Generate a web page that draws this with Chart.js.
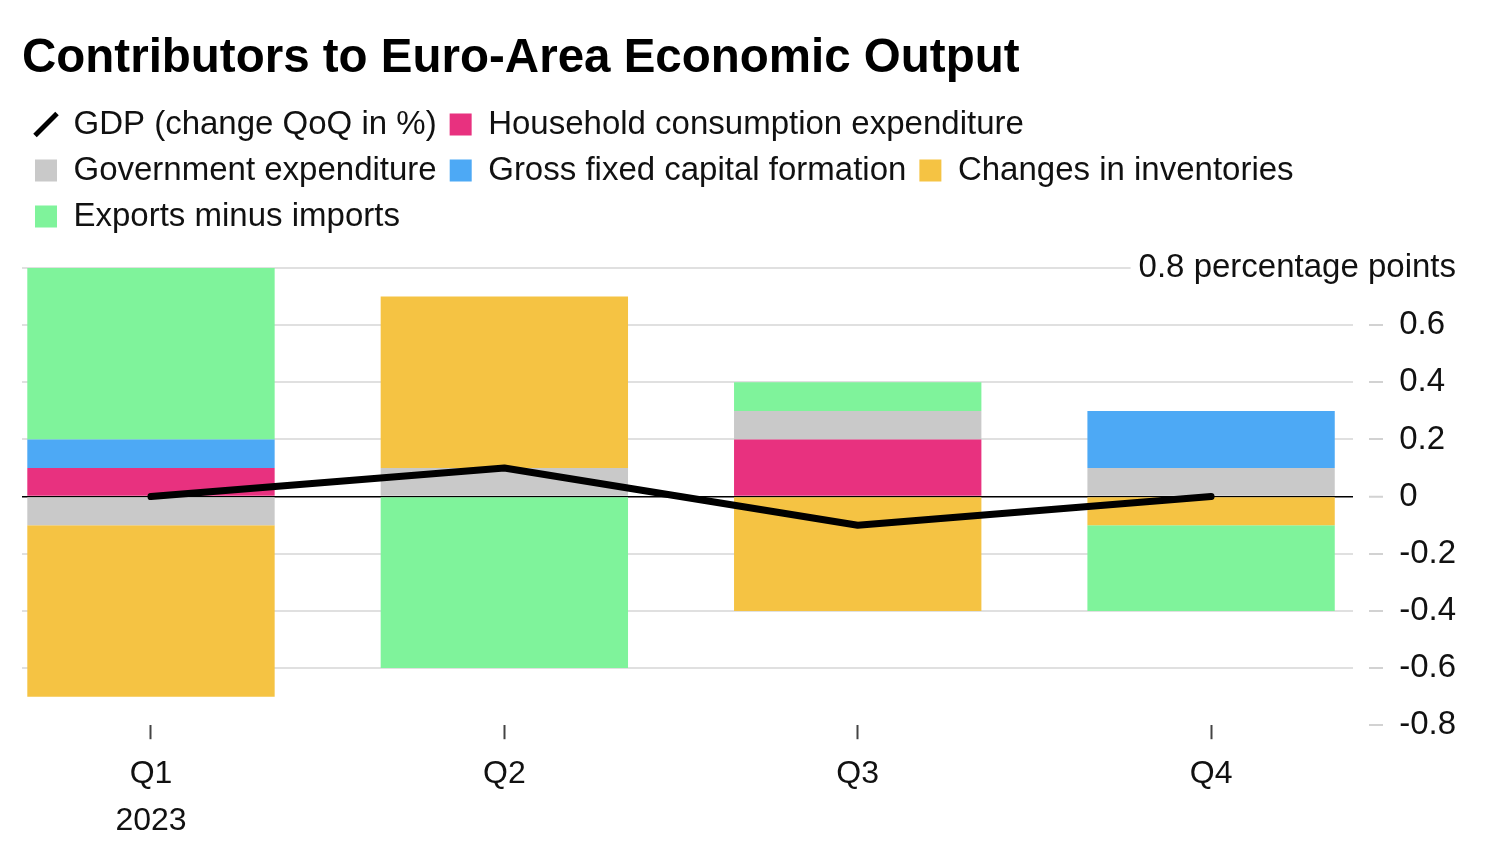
<!DOCTYPE html>
<html>
<head>
<meta charset="utf-8">
<script src="https://cdn.jsdelivr.net/npm/chart.js@4.4.1/dist/chart.umd.min.js"></script>
<style>
  html, body { margin: 0; padding: 0; background: #fff; }
</style>
</head>
<body>
<canvas id="euroOutput" width="1500" height="850"></canvas>
<script>
// quarters of 2023, contributions in percentage points
const quarters = ['Q1', 'Q2', 'Q3', 'Q4'];
const yearLabel = '2023';
const gdp = [0, 0.1, -0.1, 0];
const household = [0.1, 0, 0.2, 0];
const government = [-0.1, 0.1, 0.1, 0.1];
const grossFixed = [0.1, 0, 0, 0.2];
const inventories = [-0.6, 0.6, -0.4, -0.1];
const netExports = [0.6, -0.6, 0.1, -0.3];
const yTicks = [-0.8, -0.6, -0.4, -0.2, 0, 0.2, 0.4, 0.6, 0.8];
const yUnit = 'percentage points';

const FONT = '"Liberation Sans", Arial, sans-serif';

const toPoints = arr => arr.map((v, i) => ({ x: i, y: v }));

const barSet = (label, values, color) => ({
  type: 'bar',
  label: label,
  data: toPoints(values),
  backgroundColor: color,
  borderWidth: 0,
  barPercentage: 0.7,
  categoryPercentage: 1,
  order: 1,
});

const chartData = {
  datasets: [
    {
      type: 'line',
      label: 'GDP (change QoQ in %)',
      data: toPoints(gdp),
      borderColor: '#000',
      backgroundColor: '#000',
      borderWidth: 7,
      borderCapStyle: 'round',
      borderJoinStyle: 'round',
      pointRadius: 0,
      tension: 0,
      order: 0,
    },
    barSet('Household consumption expenditure', household, '#E8317F'),
    barSet('Government expenditure', government, '#C9C9C9'),
    barSet('Gross fixed capital formation', grossFixed, '#4DA9F5'),
    barSet('Changes in inventories', inventories, '#F5C343'),
    barSet('Exports minus imports', netExports, '#7FF39B'),
  ],
};

// top tick gets the unit written out, over a white patch
const topLabel = {
  id: 'topLabel',
  afterDraw(chart) {
    const y = chart.scales.y;
    const ctx = chart.ctx;
    const top = yTicks[yTicks.length - 1];
    const py = y.getPixelForValue(top);
    const text = top + ' ' + yUnit;
    ctx.save();
    ctx.font = '33px ' + FONT;
    const widest = Math.max(...yTicks.slice(0, -1).map(v => ctx.measureText(String(v)).width));
    const xr = y.left + y.options.grid.tickLength + y.options.ticks.padding + widest;
    const w = ctx.measureText(text).width;
    ctx.fillStyle = '#fff';
    ctx.fillRect(xr - w - 8, py - 20, w + 8, 40);
    ctx.fillStyle = '#111';
    ctx.textAlign = 'right';
    ctx.textBaseline = 'middle';
    ctx.fillText(text, xr, py);
    ctx.restore();
  },
};

// a little room between legend and plot
const legendGap = {
  id: 'legendGap',
  beforeInit(chart) {
    const fit = chart.legend.fit;
    chart.legend.fit = function () {
      fit.call(this);
      this.height += 25;
    };
  },
};

const gridColor = c => {
  if (!c.tick) return '#e0e0e0';
  if (c.tick.value === 0) return '#000';
  if (c.tick.value === yTicks[0]) return 'rgba(0,0,0,0)';
  return '#e0e0e0';
};

new Chart(document.getElementById('euroOutput'), {
  data: chartData,
  plugins: [topLabel, legendGap],
  options: {
    responsive: false,
    animation: false,
    layout: { padding: { left: 22, right: 28, top: 4, bottom: -6 } },
    plugins: {
      tooltip: { enabled: false },
      title: {
        display: true,
        text: 'Contributors to Euro-Area Economic Output',
        align: 'start',
        color: '#000',
        font: { family: FONT, size: 47.5, weight: 'bold' },
        padding: { top: 26, bottom: 8 },
      },
      legend: {
        position: 'top',
        align: 'start',
        fullSize: false,
        labels: {
          usePointStyle: true,
          boxWidth: 22,
          boxHeight: 22,
          padding: 13,
          color: '#111',
          font: { family: FONT, size: 33 },
          generateLabels: chart => chart.data.datasets.map((ds, i) => ({
            text: ds.label,
            datasetIndex: i,
            fillStyle: ds.type === 'line' ? '#000' : ds.backgroundColor,
            strokeStyle: ds.type === 'line' ? '#000' : ds.backgroundColor,
            lineWidth: ds.type === 'line' ? 5 : 0,
            pointStyle: ds.type === 'line' ? 'line' : 'rect',
            rotation: ds.type === 'line' ? -45 : 0,
            fontColor: '#111',
          })),
        },
      },
    },
    scales: {
      x: {
        type: 'linear',
        stacked: true,
        offset: false,
        min: -0.365,
        max: 3.402,
        afterBuildTicks: scale => {
          scale.ticks = quarters.map((q, i) => ({ value: i }));
        },
        grid: {
          offset: false,
          drawOnChartArea: false,
          tickLength: 14,
          tickColor: '#444',
          tickWidth: 2,
        },
        border: { display: false },
        ticks: {
          padding: 12,
          color: '#111',
          font: { family: FONT, size: 32, lineHeight: 1.45 },
          maxRotation: 0,
          callback: v => (v === 0 ? [quarters[v], yearLabel] : quarters[v]),
        },
      },
      y: {
        position: 'right',
        stacked: true,
        min: yTicks[0],
        max: yTicks[yTicks.length - 1],
        afterBuildTicks: scale => {
          scale.ticks = yTicks.map(v => ({ value: v }));
        },
        grid: {
          color: gridColor,
          lineWidth: c => (c.tick && c.tick.value === 0 ? 1.5 : 2),
          tickLength: 30,
          tickColor: '#d2d2d2',
          tickWidth: 2,
          tickBorderDash: [0, 16, 14, 100],
        },
        border: { display: false },
        ticks: {
          padding: 16,
          color: '#111',
          font: { family: FONT, size: 33 },
          callback: v => (v === yTicks[yTicks.length - 1] ? '' : String(v)),
        },
      },
    },
  },
});
</script>
</body>
</html>
